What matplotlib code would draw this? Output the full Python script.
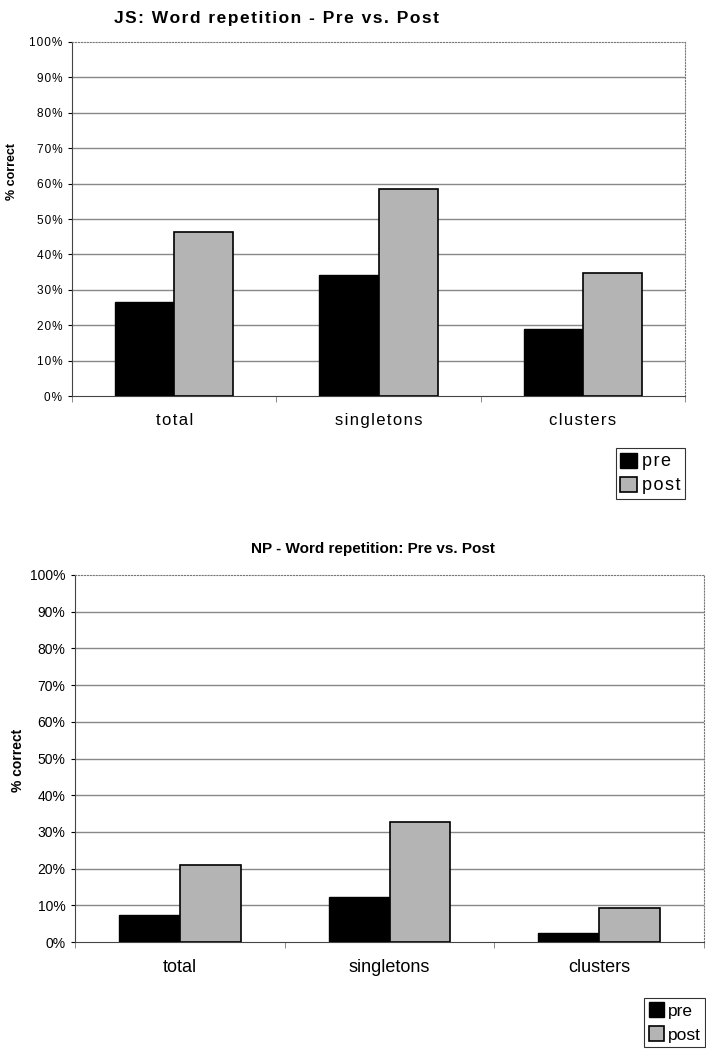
import matplotlib.pyplot as plt
import numpy as np
from matplotlib.ticker import FixedLocator

plt.rcParams['font.family'] = ['Liberation Sans', 'DejaVu Sans']

# data (percent correct)
categories = ['total', 'singletons', 'clusters']
js_pre = [26.5, 34.2, 18.9]
js_post = [46.4, 58.5, 34.7]
np_pre = [7.4, 12.3, 2.5]
np_post = [21.0, 32.7, 9.3]
yticks = list(range(0, 101, 10))

pre_color = 'black'
post_color = '#b4b4b4'


def spaced(s):
    # poor man's letter spacing for the first chart
    return '\u200a'.join(s)


def draw(ax, pre, post, tick_size, cat_size, spacing):
    x = np.arange(len(categories))
    w = 0.29
    ax.bar(x - w / 2, pre, w, color=pre_color, edgecolor='black', lw=1, label='pre', zorder=3)
    ax.bar(x + w / 2, post, w, color=post_color, edgecolor='black', lw=1.2, label='post', zorder=3)
    ax.set_xlim(-0.5, len(categories) - 0.5)
    ax.set_ylim(0, 100)
    ax.set_yticks(yticks)
    ylabels = [f'{v}%' for v in yticks]
    if spacing:
        ylabels = [spaced(l) for l in ylabels]
    ax.set_yticklabels(ylabels)
    # grid lines below 100%, the top border is the dotted spine
    for v in yticks[1:-1]:
        ax.axhline(v, color='#888888', lw=1, zorder=0)
    ax.set_xticks(x)
    labels = [spaced(c) if spacing else c for c in categories]
    ax.set_xticklabels(labels, fontsize=cat_size)
    ax.xaxis.set_minor_locator(FixedLocator(np.arange(-0.5, len(categories), 1)))
    ax.tick_params(axis='x', which='major', length=0, pad=12)
    ax.tick_params(axis='x', which='minor', length=4, color='#777777')
    ax.tick_params(axis='y', length=3, labelsize=tick_size, pad=4)
    for s in ['top', 'right']:
        ax.spines[s].set_linestyle(':')
        ax.spines[s].set_color('#777777')
    ax.spines['left'].set_color('#444444')
    ax.spines['bottom'].set_color('#444444')


fig = plt.figure(figsize=(7.06, 10.5), dpi=100)

# top chart
ax1 = fig.add_axes([72 / 706, 1 - 396 / 1050, 613 / 706, 354 / 1050])
draw(ax1, js_pre, js_post, 8.5, 12, True)
fig.text(276 / 706, 1 - 18 / 1050, spaced('JS: Word repetition - Pre vs. Post'),
         ha='center', va='center', fontsize=12.5, fontweight='bold')
fig.text(12 / 706, 1 - 172 / 1050, '% correct', rotation=90, ha='center', va='center',
         fontsize=9, fontweight='bold')
leg1 = ax1.legend(loc='upper right', bbox_to_anchor=(685 / 706, 1 - 448 / 1050),
                  bbox_transform=fig.transFigure, fontsize=13, frameon=True, fancybox=False,
                  edgecolor='black', handlelength=0.9, handleheight=0.9, handletextpad=0.3,
                  borderpad=0.25, labelspacing=0.35, borderaxespad=0)
leg1.get_frame().set_linewidth(0.8)
for t in leg1.get_texts():
    t.set_text(spaced(t.get_text()))

# bottom chart
ax2 = fig.add_axes([75 / 706, 1 - 942 / 1050, 629 / 706, 367 / 1050])
draw(ax2, np_pre, np_post, 10, 13, False)
fig.text(373 / 706, 1 - 549 / 1050, 'NP - Word repetition: Pre vs. Post',
         ha='center', va='center', fontsize=11, fontweight='bold')
fig.text(18 / 706, 1 - 760 / 1050, '% correct', rotation=90, ha='center', va='center',
         fontsize=10, fontweight='bold')
leg2 = ax2.legend(loc='upper right', bbox_to_anchor=(705 / 706, 1 - 998 / 1050),
                  bbox_transform=fig.transFigure, fontsize=12.5, frameon=True, fancybox=False,
                  edgecolor='black', handlelength=0.9, handleheight=0.9, handletextpad=0.2,
                  borderpad=0.25, labelspacing=0.45, borderaxespad=0)
leg2.get_frame().set_linewidth(0.8)

plt.savefig('out.png', dpi=100)
